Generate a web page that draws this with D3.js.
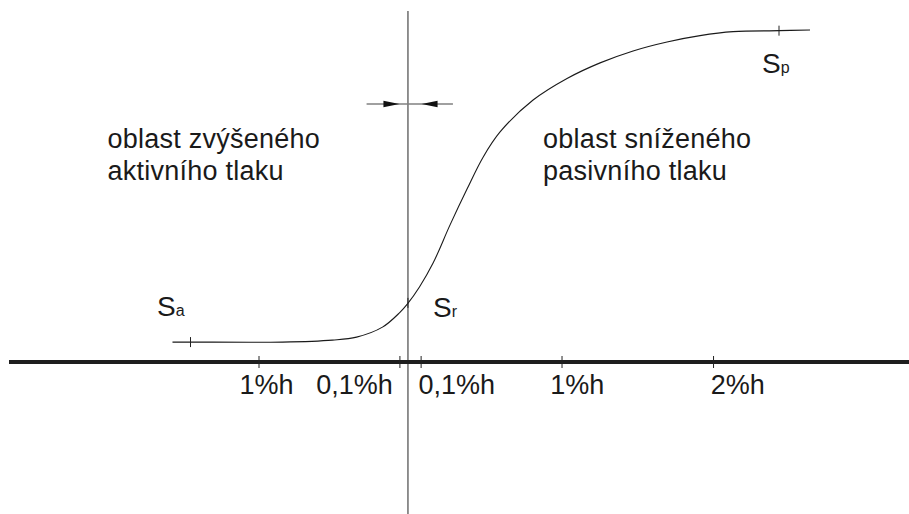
<!DOCTYPE html>
<html>
<head>
<meta charset="utf-8">
<script src="https://cdn.jsdelivr.net/npm/d3@7"></script>
<style>
html,body{margin:0;padding:0;background:#fff;}
svg{display:block;}
text{font-family:"Liberation Sans",Arial,Helvetica,sans-serif;fill:#1a1a1a;}
</style>
</head>
<body>
<svg id="chart" width="909" height="514"></svg>
<script>
// Displacement in %h (x) vs. relative earth pressure (y, 0..100)
const curveX = [-1.571,-1.452,-0.845,-0.515,-0.356,-0.185,-0.073,-0.020,0.059,0.149,0.261,0.373,0.479,0.591,0.809,1.033,1.251,1.469,1.693,1.911,2.129,2.432,2.637];
const curveY = [6.0,6.0,6.0,6.6,7.5,10.5,14.8,17.5,22.6,29.8,41.3,52.1,61.7,69.3,78.9,85.4,90.1,93.7,96.4,98.3,99.5,99.8,100];

const tickValues = [-1, -0.07, 0.07, 1, 2];
const tickLabels = ["1%h", "0,1%h", "0,1%h", "1%h", "2%h"];
const tickLabelAt = [-0.95, -0.37, 0.305, 1.10, 2.16];

const restX = -0.017;           // vertical line (at-rest state)
const arrowTips = [-0.073, 0.073];
const arrowEnds = [-0.29, 0.28];

const curveMarks = [
  {name:"S", sub:"a", x:-1.452, y:6.0,  lx:-1.673, ly:13.9},
  {name:"S", sub:"r", x:-0.017, y:17.8, lx:0.149,  ly:13.6},
  {name:"S", sub:"p", x:2.432,  y:99.8, lx:2.32,   ly:87.0}
];

const regionLabels = [
  {lines:["oblast zvýšeného","aktivního tlaku"], x:-2.0, y:[64.5,54.8]},
  {lines:["oblast sníženého","pasivního tlaku"], x:0.875, y:[64.5,54.8]}
];

const W = 909, H = 514;
const svg = d3.select("#chart");
const x = d3.scaleLinear().domain([-2.65, 3.29]).range([9, 909]);
const y = d3.scaleLinear().domain([0, 100]).range([362, 30]);

// vertical line
svg.append("line")
  .attr("x1", x(restX)).attr("x2", x(restX))
  .attr("y1", 11).attr("y2", H)
  .attr("stroke", "#858585").attr("stroke-width", 1.8);

// axis
svg.append("line")
  .attr("x1", x.range()[0]).attr("x2", x.range()[1])
  .attr("y1", y(0)).attr("y2", y(0))
  .attr("stroke", "#1e1e1e").attr("stroke-width", 4);

const ax = svg.append("g");
ax.selectAll("line.tk").data(tickValues).join("line")
  .attr("class","tk")
  .attr("x1", d => x(d)).attr("x2", d => x(d))
  .attr("y1", y(0) - 6).attr("y2", y(0) + 6)
  .attr("stroke", "#222").attr("stroke-width", 1);
ax.selectAll("text").data(tickLabels).join("text")
  .attr("x", (d,i) => x(tickLabelAt[i]))
  .attr("y", y(0) + 32)
  .attr("text-anchor", "middle")
  .attr("font-size", 27)
  .text(d => d);

// curve
const pts = curveX.map((v,i) => [v, curveY[i]]);
svg.append("path")
  .datum(pts)
  .attr("d", d3.line().x(d => x(d[0])).y(d => y(d[1])).curve(d3.curveCatmullRom.alpha(0.5)))
  .attr("fill", "none").attr("stroke", "#1a1a1a").attr("stroke-width", 1.1);

// marks on curve
svg.selectAll("line.cm").data(curveMarks).join("line")
  .attr("class","cm")
  .attr("x1", d => x(d.x)).attr("x2", d => x(d.x))
  .attr("y1", d => y(d.y) - 5).attr("y2", d => y(d.y) + 5)
  .attr("stroke", "#222").attr("stroke-width", 1);

const lbl = svg.selectAll("text.cl").data(curveMarks).join("text")
  .attr("class","cl")
  .attr("x", d => x(d.lx)).attr("y", d => y(d.ly))
  .attr("font-size", 28);
lbl.append("tspan").text(d => d.name);
lbl.append("tspan").attr("font-size", 16).text(d => d.sub);

// arrows
const ay = 104;
svg.append("line")
  .attr("x1", x(arrowEnds[0])).attr("x2", x(arrowEnds[1]))
  .attr("y1", ay).attr("y2", ay)
  .attr("stroke", "#808080").attr("stroke-width", 1.6);
arrowTips.forEach(t => {
  const tip = x(t);
  const dir = t < 0 ? -1 : 1;
  const base = tip + dir * 16;
  svg.append("path")
    .attr("d", `M${tip},${ay} L${base},${ay-3.2} L${base},${ay+3.2} Z`)
    .attr("fill", "#111");
});

// region labels
regionLabels.forEach(r => {
  r.lines.forEach((ln, i) => {
    svg.append("text")
      .attr("x", x(r.x)).attr("y", y(r.y[i]))
      .attr("font-size", 27)
      .attr("letter-spacing", 0.25)
      .text(ln);
  });
});
</script>
</body>
</html>
